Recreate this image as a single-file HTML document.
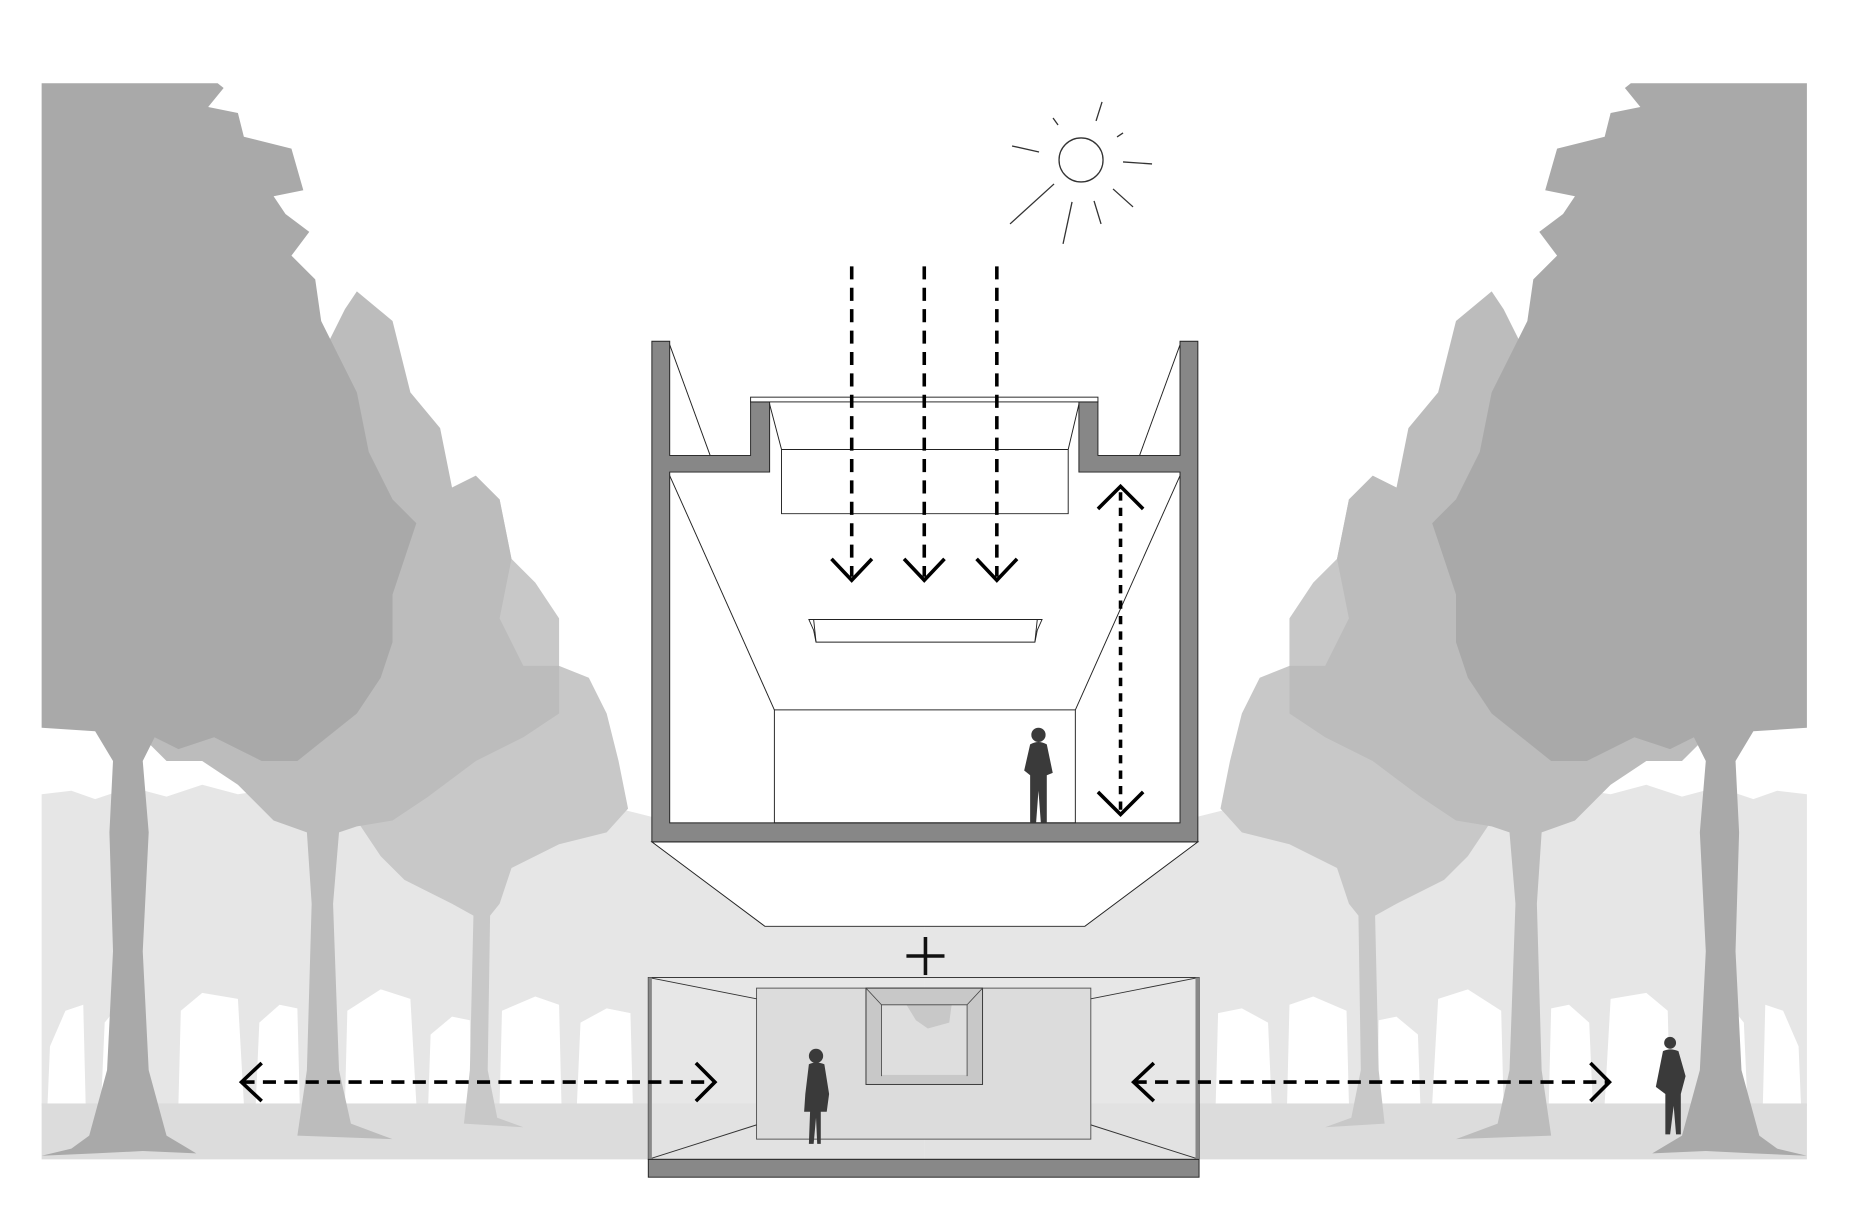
<!DOCTYPE html>
<html><head><meta charset="utf-8"><style>html,body{margin:0;padding:0;background:#fff}svg{display:block}</style></head>
<body>
<svg width="1864" height="1220" viewBox="0 0 1567 1026" preserveAspectRatio="none" xmlns="http://www.w3.org/2000/svg">
<defs>
<g id="side">
  <polygon fill="#e6e6e6" points="35,668 60,665 80,672 110,662 140,670 170,660 200,668 240,662 280,672 320,664 360,676 400,668 440,680 480,672 520,680 560,690 600,700 777,700 777,930 35,930"/>
  <g fill="#fff">
    <polygon points="40,928 42,880 55,850 70,845 72,928"/>
    <polygon points="85,928 88,860 100,845 115,850 118,928"/>
    <polygon points="150,928 152,850 170,835 200,840 205,928"/>
    <polygon points="215,928 218,860 235,845 250,848 252,928"/>
    <polygon points="290,928 292,850 320,832 345,840 350,928"/>
    <polygon points="360,928 362,870 380,855 395,858 396,928"/>
    <polygon points="420,928 422,850 450,838 470,845 472,928"/>
    <polygon points="485,928 488,860 510,848 530,852 532,928"/>
  </g>
  <rect x="35" y="928" width="742" height="47" fill="#dcdcdc"/>
  <polygon fill="#c8c8c8" points="300,690 290,650 310,610 330,560 350,520 370,470 400,430 420,420 430,470 450,490 470,520 470,560 495,570 510,600 520,640 528,680 510,700 470,710 430,730 420,760 412,770 410,900 418,940 440,948 390,945 395,900 398,770 380,760 340,740 320,720"/>
  <polygon fill="#bcbcbc" points="120,620 125,580 140,540 170,480 200,420 240,360 270,300 290,260 300,245 330,270 345,330 370,360 380,410 400,400 420,420 430,470 420,520 440,560 470,560 470,600 440,620 400,640 360,670 330,690 300,695 285,700 280,760 285,900 295,945 330,958 250,955 258,900 262,760 258,700 230,690 200,660 170,640 140,640"/>
  <polygon fill="#a9a9a9" points="35,70 183,70 188,74 175,90 200,95 205,115 245,125 255,160 230,165 240,180 260,195 245,215 265,235 270,270 285,300 300,330 310,380 330,420 350,440 340,470 330,500 330,540 320,570 300,600 275,620 250,640 220,640 180,620 150,630 130,620 120,640 125,700 120,800 125,900 140,955 165,970 120,968 80,970 35,972 60,966 75,955 90,900 95,800 92,700 95,640 80,615 35,612"/>
</g>
</defs>
<use href="#side"/>
<use href="#side" transform="translate(1554,0) scale(-1,1)"/>

<g transform="scale(0.8407)" stroke="#333" stroke-width="1.3" fill="none">
  <circle cx="1081" cy="160" r="22"/>
  <line x1="1012" y1="146" x2="1039" y2="152"/>
  <line x1="1053" y1="118" x2="1058" y2="125"/>
  <line x1="1102" y1="102" x2="1096" y2="121"/>
  <line x1="1117" y1="137" x2="1123" y2="133"/>
  <line x1="1123" y1="162" x2="1152" y2="164"/>
  <line x1="1113" y1="189" x2="1133" y2="207"/>
  <line x1="1094" y1="201" x2="1101" y2="224"/>
  <line x1="1072" y1="202" x2="1063" y2="244"/>
  <line x1="1054" y1="184" x2="1010" y2="224"/>
</g>

<polygon points="548,708 643,779 912,779 1007,708" fill="#fff" stroke="#222" stroke-width="0.8"/>
<rect x="563" y="290" width="429" height="402" fill="#fff"/>
<g fill="#878787" stroke="#222" stroke-width="0.8">
  <path d="M548,287 H563 V383 H631 V338 H647 V397 H563 V692 H992 V397 H907 V338 H923 V383 H992 V287 H1007 V708 H548 Z"/>
</g>
<g stroke="#222" stroke-width="0.8" fill="none">
  <rect x="631" y="334" width="292" height="4" fill="#fff"/>
  <line x1="563" y1="290" x2="597" y2="383"/>
  <line x1="992" y1="290" x2="958" y2="383"/>
  <line x1="563" y1="400" x2="651" y2="597"/>
  <line x1="992" y1="400" x2="904" y2="597"/>
  <rect x="651" y="597" width="253" height="95"/>
  <polyline points="647,340 657,378 657,432 898,432 898,378 907,340"/>
  <line x1="657" y1="378" x2="898" y2="378"/>
  <polygon points="680,521 876,521 872,530 870,540 686,540 684,530"/>
  <line x1="684" y1="521" x2="686" y2="540"/><line x1="872" y1="521" x2="870" y2="540"/>
</g>
<g fill="#3a3a3a">
  <circle cx="873" cy="618" r="6"/>
  <path d="M866,626 Q873,622 880,626 L885,650 L880,652 L880,692 L875,692 L873,665 L871,692 L866,692 L866,652 L861,648 Z"/>
</g>
<polygon points="545,822 1008,822 1008,975 545,975" fill="#e8e8e8" fill-opacity="0.55" stroke="#222" stroke-width="0.8"/>
<rect x="636" y="831" width="281" height="127" fill="#dcdcdc" stroke="#555" stroke-width="0.8"/>
<g stroke="#333" stroke-width="0.8">
  <line x1="545" y1="822" x2="636" y2="840"/><line x1="1008" y1="822" x2="917" y2="840"/>
  <line x1="545" y1="975" x2="636" y2="946"/><line x1="1008" y1="975" x2="917" y2="946"/>
</g>
<rect x="545" y="822" width="3" height="153" fill="#888"/>
<rect x="1005" y="822" width="3" height="153" fill="#888"/>
<rect x="545" y="975" width="463" height="15" fill="#888" stroke="#222" stroke-width="0.8"/>
<rect x="728" y="831" width="98" height="81" fill="#c8c8c8" stroke="#333" stroke-width="0.8"/>
<rect x="741" y="845" width="72" height="59" fill="#dedede"/>
<polygon points="762,845 800,845 798,860 780,865 770,858" fill="#c8c8c8"/>
<g stroke="#444" stroke-width="0.7" fill="none"><line x1="728" y1="831" x2="741" y2="845"/><line x1="826" y1="831" x2="813" y2="845"/><line x1="741" y1="845" x2="813" y2="845"/><line x1="741" y1="845" x2="741" y2="905"/><line x1="813" y1="845" x2="813" y2="905"/></g>
<g stroke="#111" stroke-width="3"><line x1="762" y1="804" x2="794" y2="804"/><line x1="778" y1="788" x2="778" y2="820"/></g>
<g fill="#3a3a3a">
  <circle cx="686" cy="888" r="6"/>
  <path d="M680,895 Q686,892 693,895 L697,920 L695,935 L690,935 L690,962 L687,962 L686,940 L684,962 L680,962 L681,935 L676,935 L677,920 Z"/>
</g>
<g fill="#3a3a3a">
  <circle cx="1404" cy="877" r="5"/>
  <path d="M1398,884 Q1404,881 1411,884 L1417,905 L1413,920 L1413,954 L1409,954 L1407,930 L1404,954 L1400,954 L1400,920 L1392,914 Z"/>
</g>
<g stroke="#000" stroke-width="3" fill="none">
  <line x1="716" y1="224" x2="716" y2="485" stroke-dasharray="11,7"/>
  <line x1="777" y1="224" x2="777" y2="485" stroke-dasharray="11,7"/>
  <line x1="838" y1="224" x2="838" y2="485" stroke-dasharray="11,7"/>
  <polyline points="699,470 716,488 733,470"/>
  <polyline points="760,470 777,488 794,470"/>
  <polyline points="821,470 838,488 855,470"/>
  <line x1="942" y1="414" x2="942" y2="682" stroke-dasharray="7,6"/>
  <polyline points="923,428 942,409 961,428"/>
  <polyline points="923,666 942,685 961,666"/>
  <line x1="203" y1="910" x2="601" y2="910" stroke-dasharray="11,7"/>
  <polyline points="220,894 203,910 220,926"/>
  <polyline points="585,894 601,910 585,926"/>
  <line x1="953" y1="910" x2="1353" y2="910" stroke-dasharray="11,7"/>
  <polyline points="970,894 953,910 970,926"/>
  <polyline points="1337,894 1353,910 1337,926"/>
</g>
</svg>
</body></html>
